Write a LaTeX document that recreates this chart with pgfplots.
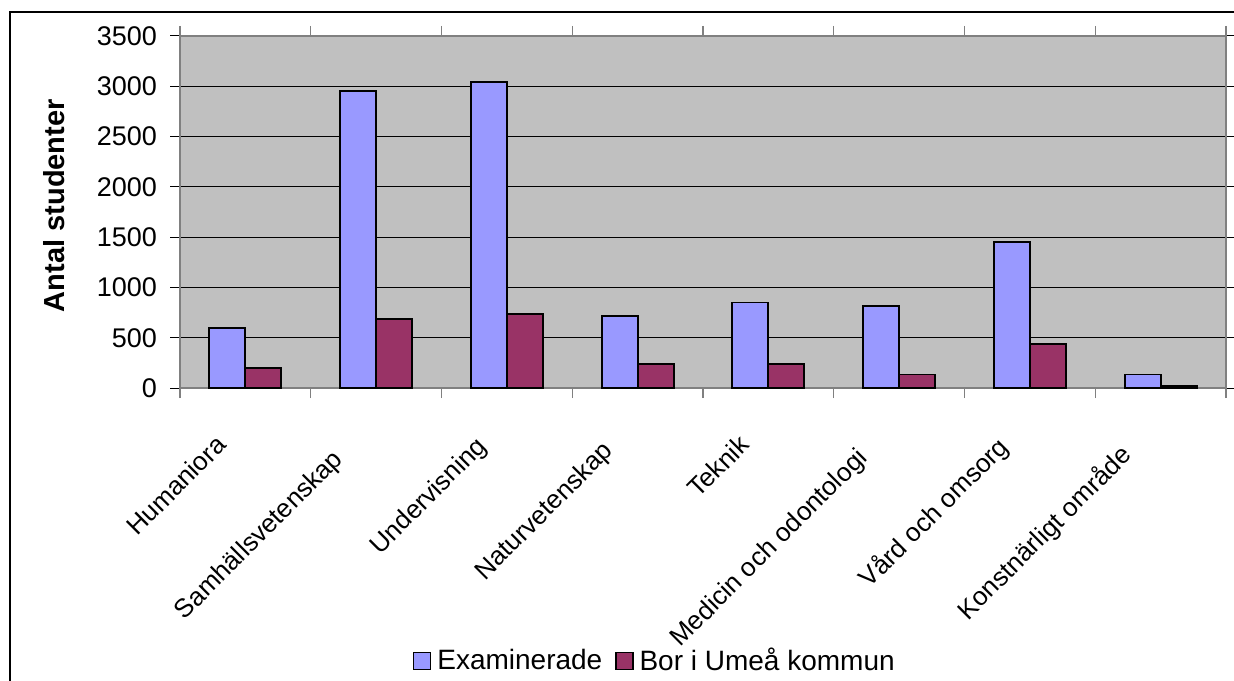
\documentclass[border=0pt]{standalone}
\usepackage{pgfplots}
\pgfplotsset{compat=1.18}
\usepackage{fontspec}
\setmainfont{Liberation Sans}
\definecolor{exam}{HTML}{9999FF}
\definecolor{bor}{HTML}{993366}
\definecolor{plotgray}{HTML}{C0C0C0}
\definecolor{bordergray}{HTML}{808080}

\begin{document}
\begin{tikzpicture}
\path[use as bounding box, clip] (0,0) rectangle (617pt,340pt);
% outer chart frame (only top and left edges are visible)
\draw[line width=1pt] (5pt,-20pt) -- (5pt,334pt) -- (640pt,334pt);
\begin{axis}[
  at={(90pt,146pt)}, anchor=south west,
  scale only axis, width=523pt, height=176pt,
  ybar=0pt, bar width=18pt,
  xmin=-0.5, xmax=7.5, ymin=0, ymax=3500,
  ytick distance=500,
  axis background/.style={fill=plotgray},
  axis line style={draw=bordergray, line width=0.6pt},
  ymajorgrids, grid style={black, line width=0.5pt},
  tick align=outside, major tick length=5pt,
  ytick style={black, line width=0.5pt},
  xtick style={bordergray, line width=0.6pt},
  /pgf/number format/assume math mode=true,
  /pgf/number format/1000 sep={},
  yticklabel style={font=\fontsize{13.5}{15}\selectfont, xshift=-3pt},
  xtick={-0.5,0.5,...,7.5}, xticklabels={},
  extra x ticks={0,1,...,7},
  extra x tick labels={Humaniora,Samhällsvetenskap\hspace*{10pt},Undervisning\hspace*{1pt},Naturvetenskap\hspace*{4pt},Teknik,Medicin och odontologi\hspace*{9pt},Vård och omsorg\hspace*{1.5pt},Konstnärligt område\hspace*{7pt}},
  extra x tick style={major tick length=0pt, grid=none,
    xticklabel style={font=\fontsize{13}{15}\selectfont, xshift=-14pt, yshift=-24pt, rotate=45, anchor=north east, inner sep=0pt, text height=0.72em}},
  every axis y label/.style={at={(axis description cs:-0.1205,0.518)}, rotate=90, anchor=center, font=\fontsize{14.5}{16}\selectfont\bfseries},
  ylabel={Antal studenter},
  legend style={at={(0.455,-0.776)}, anchor=center, legend columns=-1, draw=none, fill=none,
    font=\fontsize{14}{16}\selectfont, /tikz/every even column/.append style={column sep=4.5pt},
    /tikz/every odd column/.append style={column sep=1pt}},
]
\addplot[fill=exam, draw=black, line width=0.9pt,
  legend image code/.code={\draw[fill=exam,draw=black,line width=0.6pt] (0pt,-4.25pt) rectangle (8.5pt,4.25pt);}]
  coordinates {(0,600) (1,2950) (2,3045) (3,715) (4,850) (5,815) (6,1450) (7,135)};
\addplot[fill=bor, draw=black, line width=0.9pt,
  legend image code/.code={\draw[fill=bor,draw=black,line width=0.6pt] (0pt,-4.25pt) rectangle (8.5pt,4.25pt);}]
  coordinates {(0,195) (1,690) (2,735) (3,240) (4,240) (5,135) (6,435) (7,20)};
\legend{Examinerade, Bor i Umeå kommun}
\end{axis}
\end{tikzpicture}
\end{document}
